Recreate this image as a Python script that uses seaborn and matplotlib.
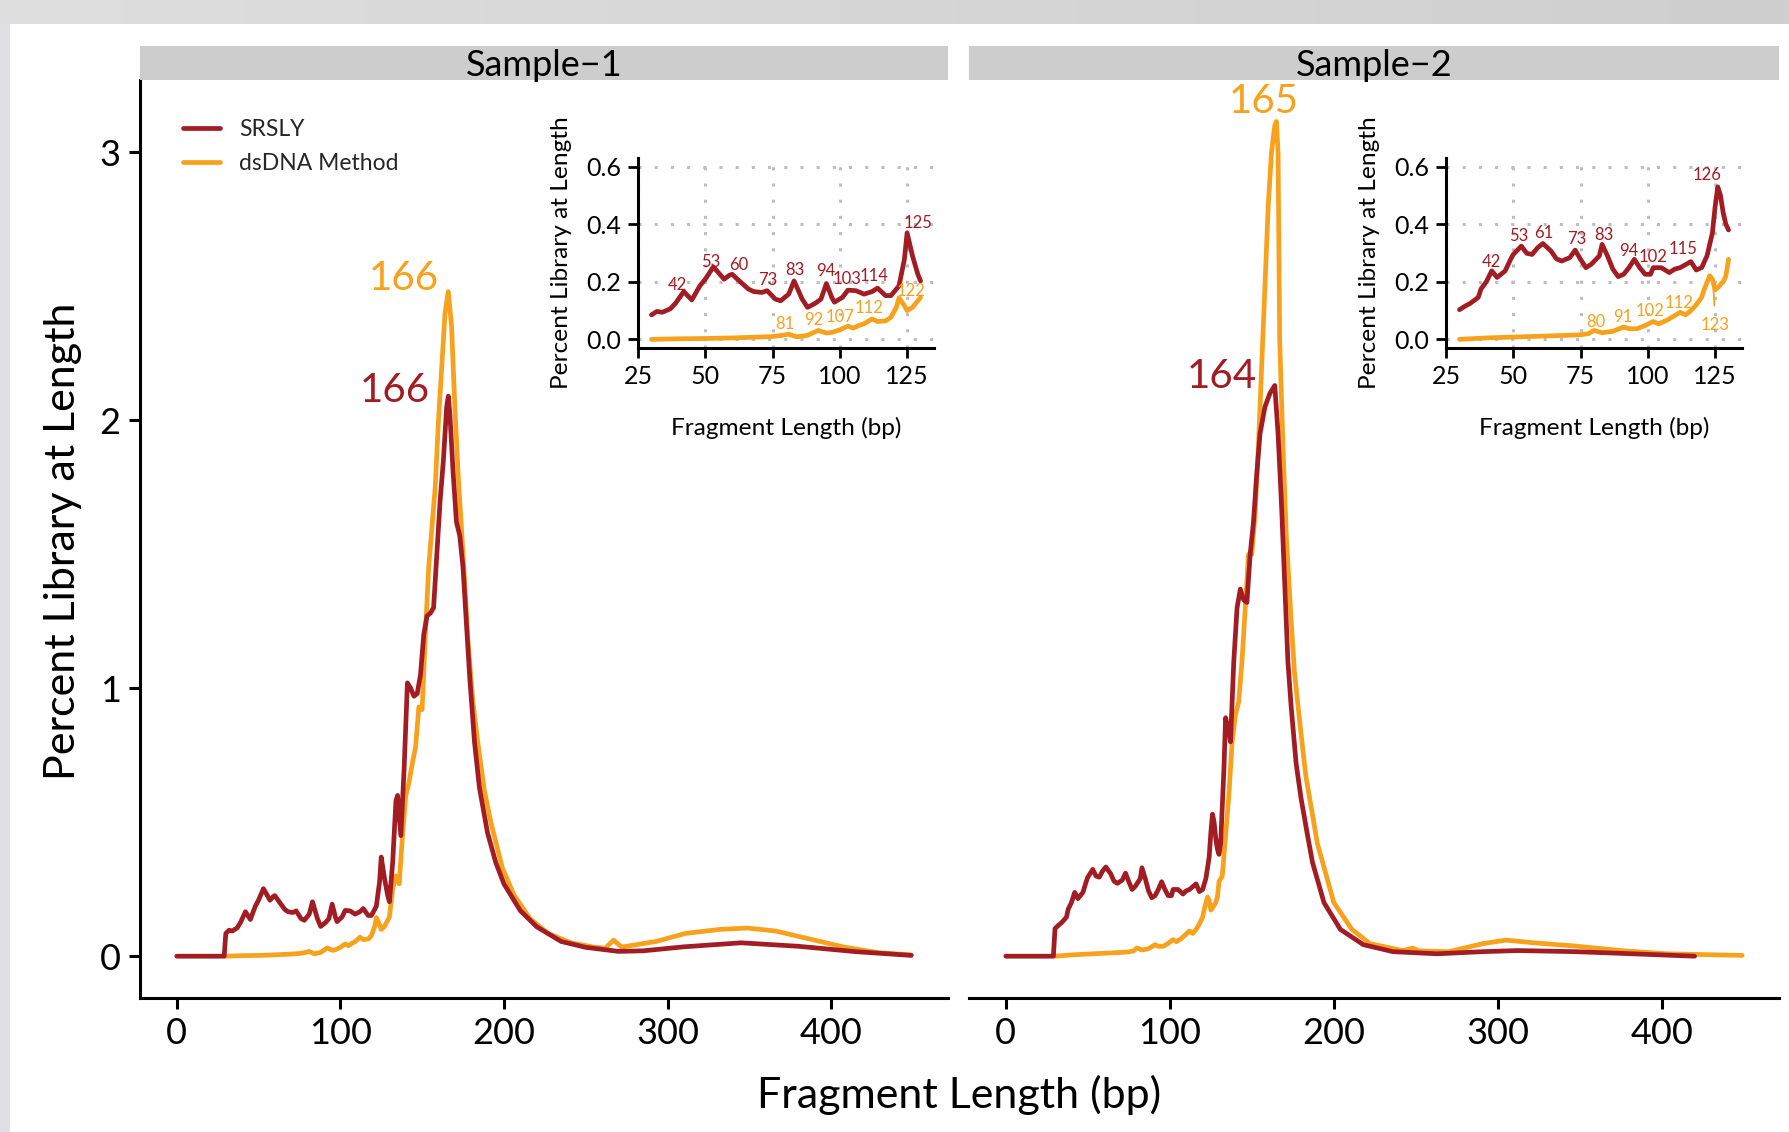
import numpy as np
import pandas as pd
import matplotlib
matplotlib.use("Agg")
import matplotlib.pyplot as plt
import seaborn as sns
from matplotlib.patches import Rectangle
from matplotlib.lines import Line2D
from matplotlib.colors import LinearSegmentedColormap

sns.set_theme(style="white")
plt.rcParams["font.family"] = ["Lato", "DejaVu Sans"]

RED = "#A21C23"
ORANGE = "#F7A11D"

samples = ["Sample\u22121", "Sample\u22122"]
methods = ["SRSLY", "dsDNA Method"]

# ---------------- data ----------------
s1_srsly_len = [0, 29, 30, 32, 34, 37, 39, 42, 45, 48, 50, 53, 57, 59, 60, 63, 66, 68, 71, 73,
                76, 78, 81, 83, 86, 88, 91, 93, 95, 97, 98, 101, 103, 106, 109, 112, 114, 117,
                119, 122, 124, 125, 127, 129, 130, 132, 134, 135, 137, 139, 141, 143, 145, 147,
                149, 151, 153, 155, 157, 159, 161, 163, 165, 166, 167, 169, 171, 173, 175, 177,
                179, 182, 185, 190, 195, 200, 210, 220, 235, 250, 270, 285, 310, 345, 380, 415, 449]
s1_srsly_pct = [0, 0, 0.085, 0.097, 0.094, 0.106, 0.126, 0.166, 0.137, 0.186, 0.209, 0.252, 0.209,
                0.223, 0.226, 0.2, 0.175, 0.166, 0.163, 0.169, 0.14, 0.134, 0.157, 0.203, 0.14,
                0.111, 0.126, 0.14, 0.194, 0.146, 0.129, 0.146, 0.171, 0.169, 0.157, 0.166, 0.178,
                0.152, 0.152, 0.186, 0.278, 0.37, 0.29, 0.226, 0.203, 0.35, 0.58, 0.6, 0.45, 0.7,
                1.02, 1.0, 0.97, 0.98, 1.05, 1.2, 1.27, 1.28, 1.3, 1.5, 1.7, 1.85, 2.05, 2.09, 2.02,
                1.8, 1.62, 1.57, 1.45, 1.25, 1.05, 0.8, 0.63, 0.46, 0.35, 0.27, 0.17, 0.11, 0.055,
                0.033, 0.018, 0.02, 0.035, 0.05, 0.037, 0.017, 0.003]

s1_ds_len = [30, 40, 50, 60, 70, 75, 78, 81, 84, 88, 92, 95, 97, 100, 103, 105, 107, 109, 112, 114,
             117, 119, 121, 122, 124, 125, 127, 130, 132, 134, 136, 138, 140, 142, 144, 146, 148,
             150, 152, 154, 156, 158, 160, 162, 164, 166, 168, 170, 172, 174, 176, 178, 181, 184,
             188, 192, 199, 206, 216, 227, 241, 255, 262, 267, 272, 293, 311, 332, 349, 366, 387,
             408, 429, 449]
s1_ds_pct = [0.0, 0.002, 0.003, 0.005, 0.008, 0.01, 0.013, 0.018, 0.009, 0.014, 0.031, 0.022, 0.024,
             0.033, 0.046, 0.039, 0.048, 0.054, 0.071, 0.062, 0.064, 0.077, 0.111, 0.144, 0.117, 0.1,
             0.111, 0.146, 0.25, 0.3, 0.27, 0.45, 0.6, 0.65, 0.72, 0.78, 0.93, 0.92, 1.2, 1.45, 1.6,
             1.75, 2.0, 2.2, 2.4, 2.48, 2.35, 2.05, 1.8, 1.6, 1.4, 1.18, 0.95, 0.8, 0.62, 0.5, 0.33,
             0.23, 0.14, 0.085, 0.05, 0.034, 0.03, 0.06, 0.034, 0.055, 0.085, 0.1, 0.105, 0.094,
             0.064, 0.034, 0.013, 0.005]

s2_srsly_len = [0, 29, 30, 32, 34, 37, 38, 40, 42, 44, 47, 49, 50, 53, 55, 57, 59, 61, 64, 66, 68,
                71, 73, 75, 77, 79, 82, 83, 85, 87, 89, 91, 93, 95, 97, 99, 101, 102, 105, 108, 110,
                112, 116, 118, 120, 122, 124, 125, 126, 127, 128, 129, 130, 131, 133, 134, 136, 137,
                139, 141, 143, 145, 147, 149, 151, 153, 155, 158, 161, 164, 166, 168, 170, 172, 174,
                177, 180, 184, 187, 194, 204, 218, 236, 263, 291, 312, 347, 382, 420]
s2_srsly_pct = [0, 0, 0.103, 0.115, 0.125, 0.146, 0.175, 0.2, 0.238, 0.215, 0.238, 0.278, 0.295,
                0.324, 0.299, 0.295, 0.318, 0.333, 0.307, 0.28, 0.272, 0.284, 0.31, 0.278, 0.249,
                0.261, 0.29, 0.33, 0.29, 0.244, 0.218, 0.226, 0.249, 0.278, 0.249, 0.226, 0.226,
                0.249, 0.249, 0.232, 0.244, 0.249, 0.27, 0.241, 0.249, 0.29, 0.37, 0.46, 0.53, 0.5,
                0.44, 0.4, 0.38, 0.42, 0.7, 0.89, 0.84, 0.8, 1.1, 1.3, 1.37, 1.33, 1.32, 1.5, 1.62,
                1.8, 1.95, 2.05, 2.1, 2.13, 1.95, 1.7, 1.4, 1.1, 0.93, 0.72, 0.59, 0.45, 0.35, 0.2,
                0.1, 0.043, 0.017, 0.009, 0.017, 0.021, 0.017, 0.009, 0.0]

s2_ds_len = [30, 40, 50, 60, 70, 75, 78, 80, 83, 87, 91, 93, 96, 99, 102, 104, 107, 109, 112, 114,
             116, 118, 120, 121, 123, 124, 125, 126, 128, 129, 130, 132, 134, 136, 138, 140, 142,
             144, 146, 148, 150, 152, 154, 156, 158, 160, 162, 164, 165, 166, 167, 169, 171, 174,
             176, 180, 183, 190, 200, 211, 222, 242, 248, 252, 270, 291, 305, 322, 347, 375, 403, 449]
s2_ds_pct = [0.0, 0.005, 0.008, 0.011, 0.014, 0.016, 0.02, 0.031, 0.023, 0.028, 0.043, 0.037, 0.037,
             0.048, 0.062, 0.054, 0.066, 0.077, 0.094, 0.085, 0.1, 0.12, 0.146, 0.175, 0.221, 0.209,
             0.172, 0.18, 0.2, 0.22, 0.278, 0.3, 0.45, 0.6, 0.8, 0.9, 0.95, 1.1, 1.3, 1.5, 1.5, 1.65,
             1.9, 2.2, 2.5, 2.8, 3.0, 3.1, 3.115, 3.0, 2.3, 1.9, 1.57, 1.25, 1.06, 0.83, 0.67, 0.42,
             0.2, 0.1, 0.047, 0.021, 0.03, 0.02, 0.017, 0.047, 0.06, 0.05, 0.038, 0.021, 0.009, 0.003]

# peak labels (main panels)
main_peaks = {
    ("Sample\u22121", "SRSLY"): 166, ("Sample\u22121", "dsDNA Method"): 166,
    ("Sample\u22122", "SRSLY"): 164, ("Sample\u22122", "dsDNA Method"): 165,
}
# inset peak labels
inset_peaks = {
    ("Sample\u22121", "SRSLY"): [42, 53, 60, 73, 83, 94, 103, 114, 125],
    ("Sample\u22121", "dsDNA Method"): [81, 92, 107, 112, 122],
    ("Sample\u22122", "SRSLY"): [42, 53, 61, 73, 83, 94, 102, 115, 126],
    ("Sample\u22122", "dsDNA Method"): [80, 91, 102, 112, 123],
}

# ---------------- layout (label placement, in data units) ----------------
main_label_pos = {
    ("Sample\u22121", "SRSLY"): (133.3, 2.11), ("Sample\u22121", "dsDNA Method"): (138.9, 2.53),
    ("Sample\u22122", "SRSLY"): (131.7, 2.165), ("Sample\u22122", "dsDNA Method"): (157.5, 3.19),
}
inset_label_pos = {
    ("Sample\u22121", "SRSLY"): [(39.6, 0.189), (52.1, 0.27), (62.5, 0.259), (73.4, 0.206),
                                 (83.4, 0.24), (94.75, 0.238), (102.6, 0.209), (112.8, 0.22),
                                 (129, 0.405)],
    ("Sample\u22121", "dsDNA Method"): [(79.75, 0.054), (90.2, 0.066), (100.2, 0.077),
                                        (110.8, 0.108), (126.6, 0.169)],
    ("Sample\u22122", "SRSLY"): [(42, 0.27), (52, 0.359), (61.2, 0.37), (73.6, 0.349), (83.7, 0.364),
                                 (92.8, 0.307), (101.9, 0.286), (113.2, 0.313), (122, 0.571)],
    ("Sample\u22122", "dsDNA Method"): [(80.8, 0.062), (90.6, 0.077), (100.9, 0.097),
                                        (111.7, 0.126), (125.1, 0.05)],
}

frames = []
for samp, meth, L, P in [
    (samples[0], methods[0], s1_srsly_len, s1_srsly_pct),
    (samples[0], methods[1], s1_ds_len, s1_ds_pct),
    (samples[1], methods[0], s2_srsly_len, s2_srsly_pct),
    (samples[1], methods[1], s2_ds_len, s2_ds_pct),
]:
    frames.append(pd.DataFrame({"sample": samp, "method": meth, "length": L, "pct": P}))
df = pd.concat(frames, ignore_index=True)

palette = {"SRSLY": RED, "dsDNA Method": ORANGE}

W, H = 1789, 1132
fig = plt.figure(figsize=(W / 100, H / 100), dpi=100)
fig.patch.set_facecolor("#E0E0E2")


def px(x0, y0, x1, y1):
    return [x0 / W, 1 - y1 / H, (x1 - x0) / W, (y1 - y0) / H]


# screenshot frame: grey band at top (gradient) and white page
bg = fig.add_axes([0, 0, 1, 1], zorder=-10)
bg.set_axis_off()
bg.add_patch(Rectangle((10 / W, 0), 1, 1 - 24 / H, transform=bg.transAxes, color="white"))
band = fig.add_axes(px(0, 0, W, 24), zorder=-9)
grad = np.linspace(0, 1, 256)[None, :]
cm = LinearSegmentedColormap.from_list("g", ["#DEDEDE", "#CFCFD0"])
band.imshow(grad, aspect="auto", cmap=cm, extent=[0, 1, 0, 1])
band.set_axis_off()

main_boxes = [px(140, 80, 948, 998), px(969, 80, 1779, 998)]
strip_boxes = [px(140, 46, 948, 80), px(969, 46, 1779, 80)]
inset_boxes = [px(638, 158, 934, 348), px(1446, 158, 1742, 348)]

LW = 3.4

for i, samp in enumerate(samples):
    sub = df[df["sample"] == samp]
    ax = fig.add_axes(main_boxes[i])
    for meth in ["dsDNA Method", "SRSLY"]:
        d = sub[sub["method"] == meth]
        sns.lineplot(data=d, x="length", y="pct", color=palette[meth], lw=LW, ax=ax,
                     estimator=None, sort=False, legend=False)
    ax.set_xlim(-22.45, 471.45)
    ax.set_ylim(-0.156, 3.27)
    ax.set_xticks([0, 100, 200, 300, 400])
    ax.set_yticks([0, 1, 2, 3])
    ax.set_xlabel("")
    ax.set_ylabel("")
    for s in ["top", "right"]:
        ax.spines[s].set_visible(False)
    for s in ["bottom", "left"]:
        ax.spines[s].set_linewidth(2.2)
        ax.spines[s].set_color("black")
    ax.tick_params(axis="both", length=8, width=2.2, color="black", labelsize=26,
                   labelcolor="black", pad=6, direction="out", bottom=True, left=True)
    if i == 1:
        ax.spines["left"].set_visible(False)
        ax.tick_params(axis="y", left=False, labelleft=False)
    ax.set_facecolor("none")
    ax.grid(False)

    for meth in methods:
        pk = main_peaks[(samp, meth)]
        lx, ly = main_label_pos[(samp, meth)]
        ax.text(lx, ly, str(pk), color=palette[meth], fontsize=29, ha="center", va="center")

    if i == 0:
        handles = [Line2D([], [], color=RED, lw=LW), Line2D([], [], color=ORANGE, lw=LW)]
        ax.legend(handles, methods, loc="upper left", bbox_to_anchor=(0.053, 0.957),
                  frameon=False, fontsize=16.5, handlelength=1.62, handletextpad=0.85,
                  labelspacing=0.55, borderpad=0, borderaxespad=0)

    # strip
    st = fig.add_axes(strip_boxes[i])
    st.set_facecolor("#CDCDCD")
    st.set_xticks([]); st.set_yticks([])
    for s in st.spines.values():
        s.set_visible(False)
    st.text(0.5, 0.42, samp, transform=st.transAxes, ha="center", va="center",
            fontsize=26, color="black")

    # inset
    sub_in = sub[(sub["length"] >= 30) & (sub["length"] <= 130)]
    ia = fig.add_axes(inset_boxes[i])
    ia.set_xlim(25, 135)
    ia.set_ylim(-0.03, 0.63)
    ia.set_xticks([25, 50, 75, 100, 125])
    ia.set_yticks([0.0, 0.2, 0.4, 0.6])
    ia.set_yticklabels(["0.0", "0.2", "0.4", "0.6"])
    ia.grid(True, color="#BEBEBE", linestyle=(0, (1, 4.3)), linewidth=2.2)
    for meth in ["dsDNA Method", "SRSLY"]:
        d = sub_in[sub_in["method"] == meth]
        sns.lineplot(data=d, x="length", y="pct", color=palette[meth], lw=LW, ax=ia,
                     estimator=None, sort=False, legend=False)
    ia.set_facecolor("none")
    for s in ["top", "right"]:
        ia.spines[s].set_visible(False)
    for s in ["bottom", "left"]:
        ia.spines[s].set_linewidth(2.2)
        ia.spines[s].set_color("black")
    ia.tick_params(axis="both", length=7, width=2.0, color="black", labelsize=18,
                   labelcolor="black", pad=5, bottom=True, left=True)
    ia.set_xlabel("Fragment Length (bp)", fontsize=17.6, labelpad=21, color="black")
    ia.set_ylabel("Percent Library at Length", fontsize=17.6, labelpad=10, color="black")
    for meth in methods:
        pks = inset_peaks[(samp, meth)]
        poss = inset_label_pos[(samp, meth)]
        for pk, (lx, ly) in zip(pks, poss):
            if samp == samples[1] and meth == "dsDNA Method" and pk == 123:
                ia.annotate(str(pk), xy=(124.3, 0.19), xytext=(lx, ly), color=palette[meth],
                            fontsize=12, ha="center", va="center",
                            arrowprops=dict(arrowstyle="-", color=palette[meth], lw=1.3,
                                            shrinkA=6, shrinkB=0))
            else:
                ia.text(lx, ly, str(pk), color=palette[meth], fontsize=12, ha="center",
                        va="center")

fig.text(63 / W, 1 - 541 / H, "Percent Library at Length", rotation=90, ha="center",
         va="center", fontsize=31, color="black")
fig.text(959 / W, 1 - 1095 / H, "Fragment Length (bp)", ha="center", va="center",
         fontsize=31, color="black")

fig.savefig("out.png", dpi=100, facecolor=fig.get_facecolor())
